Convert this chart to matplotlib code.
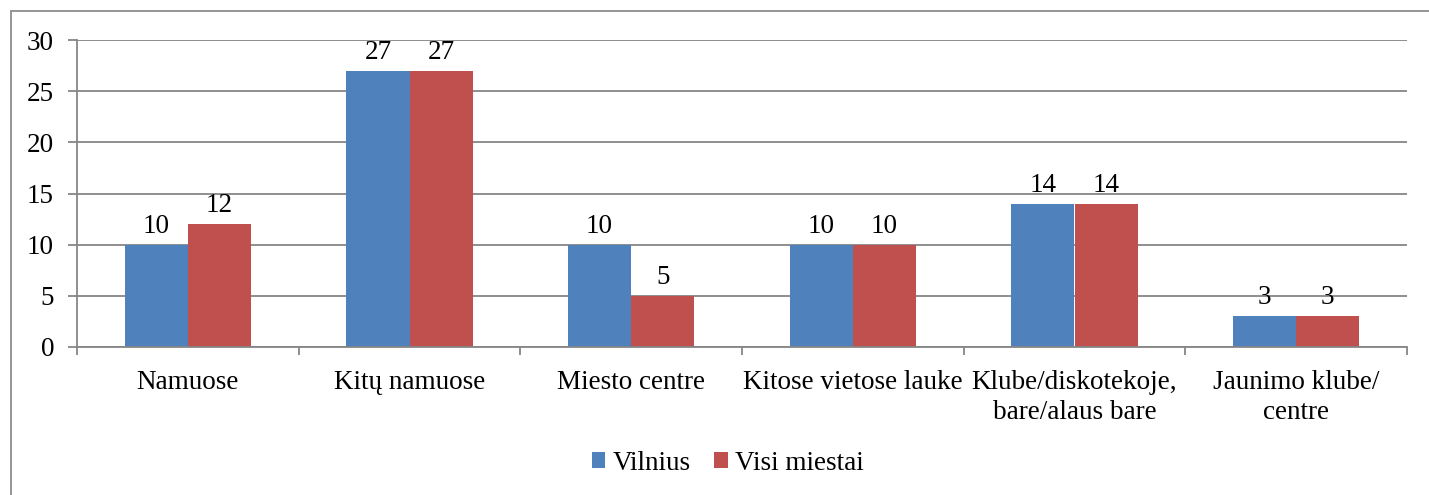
import matplotlib.pyplot as plt
import numpy as np
from matplotlib.patches import Rectangle

plt.rcParams['font.family'] = ['Liberation Serif', 'DejaVu Serif']

categories = ['Namuose', 'Kitų namuose', 'Miesto centre', 'Kitose vietose lauke',
              'Klube/diskotekoje,\nbare/alaus bare', 'Jaunimo klube/\ncentre']
vilnius = [10, 27, 10, 10, 14, 3]
visi_miestai = [12, 27, 5, 10, 14, 3]
yticks = [0, 5, 10, 15, 20, 25, 30]

blue = '#4F81BD'
red = '#C0504D'
grid_c = '#868686'
fs = 19.5

fig = plt.figure(figsize=(14.29, 4.95), dpi=100)
W, H = 1429, 495
ax = fig.add_axes([77 / W, 1 - 347 / H, (1407 - 77) / W, (347 - 40) / H])

x = np.arange(len(categories))
bw = 0.285
b1 = ax.bar(x - bw / 2, vilnius, bw, color=blue, label='Vilnius')
b2 = ax.bar(x + bw / 2, visi_miestai, bw, color=red, label='Visi miestai')
for bars in (b1, b2):
    for b in bars:
        ax.text(b.get_x() + b.get_width() / 2, b.get_height() + 0.6, '%d' % b.get_height(),
                ha='center', va='bottom', fontsize=fs)

ax.set_xlim(-0.5, len(categories) - 0.5)
ax.set_ylim(0, 30)
ax.set_yticks(yticks)
ax.yaxis.grid(True, color=grid_c, linewidth=1.3)
ax.set_axisbelow(True)

ax.set_xticks(np.arange(len(categories) + 1) - 0.5)
ax.set_xticklabels([])
ax.set_xticks(x, minor=True)
ax.set_xticklabels(categories, minor=True, fontsize=fs, linespacing=1.28)
ax.tick_params(axis='x', which='minor', length=0, pad=16.5)
ax.tick_params(axis='x', which='major', length=6, width=1.3, color=grid_c)
ax.tick_params(axis='y', length=6.5, width=1.3, color=grid_c, labelsize=fs, pad=10)

for s in ['top', 'right']:
    ax.spines[s].set_visible(False)
for s in ['left', 'bottom']:
    ax.spines[s].set_color(grid_c)
    ax.spines[s].set_linewidth(1.3)

fig.legend(handles=[b1, b2], loc='center', bbox_to_anchor=(728 / W, 1 - 463 / H),
           ncol=2, frameon=False, fontsize=fs, handlelength=0.5, handleheight=0.5,
           handletextpad=0.28, columnspacing=0.85)

# outer chart border
fig.patches.append(Rectangle((11 / W, -0.1), 1.2, 1 - 11 / H + 0.1, transform=fig.transFigure,
                             fill=False, edgecolor='#8c8c8c', linewidth=1.3))

fig.savefig('out.png', dpi=100)
